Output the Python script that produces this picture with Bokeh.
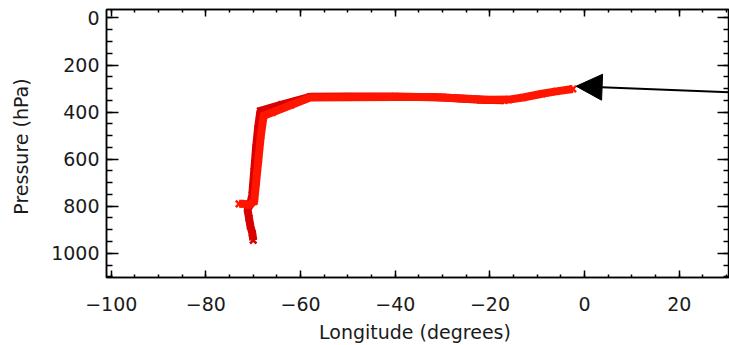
from bokeh.plotting import figure
from bokeh.models import (LinearAxis, Range1d, SingleIntervalTicker, Arrow,
                          NormalHead, ColumnDataSource, CustomLabelingPolicy)
from bokeh.embed import file_html
from bokeh.resources import INLINE

# ---- data ----
# trajectory A (bright red)
lon_a = [-73.0, -72.0, -71.0, -69.8, -69.4, -68.9, -68.4, -67.8, -66.0, -62.0,
         -58.0, -50.0, -40.0, -32.0, -26.0, -20.0, -16.0, -13.0, -9.0, -6.0, -2.5]
p_a = [790, 790, 795, 780, 700, 600, 500, 415, 402, 370,
       338, 337, 336, 336, 342, 348, 347, 338, 322, 312, 302]
# trajectory B (dark red)
lon_b = [-70.0, -70.2, -70.6, -70.9, -71.2, -70.6, -70.2, -69.8, -69.4, -69.0,
         -68.5, -64.0, -58.0, -50.0, -40.0, -30.0, -22.0, -17.0]
p_b = [945, 915, 885, 850, 815, 790, 750, 650, 550, 470,
       395, 368, 335, 334, 334, 338, 348, 350]

x_ticks_major = [-100, -80, -60, -40, -20, 0, 20]
y_ticks_major = [0, 200, 400, 600, 800, 1000]
x_range = (-101.0, 30.6)
y_range = (1103.0, -36.0)
arrow_tip = (-1.8, 290.0)
arrow_tail = (34.0, 318.0)

FONT = "DejaVu Sans"

p = figure(width=729, height=345, output_backend="svg", toolbar_location=None,
           x_range=Range1d(*x_range), y_range=Range1d(*y_range),
           x_axis_type=None, y_axis_type=None,
           min_border_left=106, min_border_right=0, min_border_top=9,
           min_border_bottom=66)
p.background_fill_color = "white"
p.border_fill_color = "white"
p.outline_line_color = "black"
p.outline_line_width = 1.5
p.xgrid.visible = False
p.ygrid.visible = False

no_labels = CustomLabelingPolicy(code="""
    const all = []
    for (const i of indices) all.push(i)
    for (const i of all) indices.unset(i)
    return indices
""")


def style(ax, major_in, minor_in, labels=True):
    ax.major_tick_in = major_in
    ax.major_tick_out = 0
    ax.minor_tick_in = minor_in
    ax.minor_tick_out = 0
    ax.axis_line_color = "black"
    ax.axis_line_width = 1.5
    ax.major_tick_line_color = "black"
    ax.minor_tick_line_color = "black"
    ax.major_tick_line_width = 1.5
    ax.minor_tick_line_width = 1.5
    if labels:
        ax.major_label_text_font = FONT
        ax.major_label_text_font_size = "19px"
        ax.major_label_text_color = "#1a1a1a"
        ax.axis_label_text_font = FONT
        ax.axis_label_text_font_size = "19px"
        ax.axis_label_text_font_style = "normal"
        ax.axis_label_text_color = "#1a1a1a"
    else:
        ax.major_label_policy = no_labels
        ax.major_label_text_font_size = "0px"
        ax.major_label_standoff = 0
        ax.axis_label = None
        ax.axis_label_standoff = 0


xt = SingleIntervalTicker(interval=20, num_minor_ticks=4)
yt = SingleIntervalTicker(interval=200, num_minor_ticks=4)

xb = LinearAxis(ticker=xt, axis_label="Longitude  (degrees)")
xb.major_label_overrides = {v: str(v).replace("-", "\u2212") for v in x_ticks_major}
style(xb, 7, 3)
xb.major_label_standoff = 19
xb.axis_label_standoff = 7
p.add_layout(xb, "below")

yl = LinearAxis(ticker=yt, axis_label="Pressure  (hPa)")
style(yl, 12, 6)
yl.major_label_standoff = 7
yl.axis_label_standoff = 16
p.add_layout(yl, "left")

xa = LinearAxis(ticker=SingleIntervalTicker(interval=20, num_minor_ticks=4))
style(xa, 7, 3, labels=False)
p.add_layout(xa, "above")

yr = LinearAxis(ticker=SingleIntervalTicker(interval=200, num_minor_ticks=4))
style(yr, 12, 6, labels=False)
p.add_layout(yr, "right")

src_a = ColumnDataSource(dict(x=lon_a, y=p_a))
src_b = ColumnDataSource(dict(x=lon_b, y=p_b))

p.line("x", "y", source=src_b, line_color="#d80000", line_width=8)
p.scatter("x", "y", source=src_b, marker="x", size=9, line_color="#d80000", line_width=2.5)
p.line("x", "y", source=src_a, line_color="#ff1500", line_width=8)
p.scatter("x", "y", source=src_a, marker="x", size=9, line_color="#ff1500", line_width=2.5)

p.add_layout(Arrow(end=NormalHead(size=26, fill_color="black", line_color="black"),
                   x_start=arrow_tail[0], y_start=arrow_tail[1],
                   x_end=arrow_tip[0], y_end=arrow_tip[1],
                   line_color="black", line_width=2))

open("out.html", "w").write(file_html(p, INLINE))
